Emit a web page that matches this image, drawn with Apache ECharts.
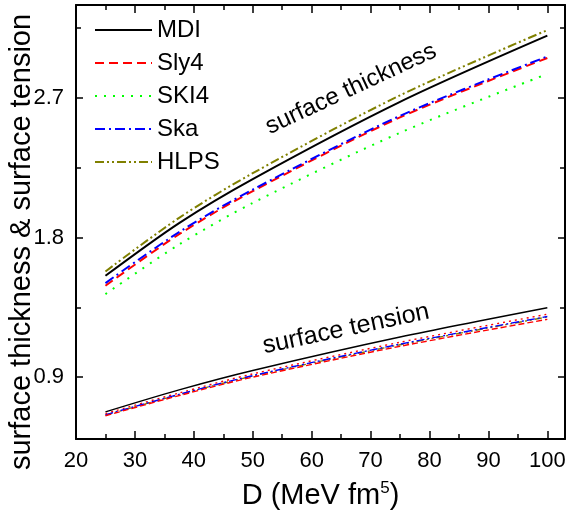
<!DOCTYPE html>
<html><head><meta charset="utf-8">
<script src="https://cdn.jsdelivr.net/npm/echarts@6/dist/echarts.min.js"></script>
<style>html,body{margin:0;padding:0;background:#fff}#c{width:569px;height:510px}</style>
</head><body><div id="c"></div>
<script>
// D values (MeV fm^5)
const D = [25, 37.5, 50, 75, 100];
// surface thickness
const thickMDI  = [1.553, 1.893, 2.177, 2.675, 3.102];
const thickSly4 = [1.489, 1.821, 2.099, 2.575, 2.958];
const thickSKI4 = [1.435, 1.755, 2.023, 2.476, 2.855];
const thickSka  = [1.506, 1.835, 2.109, 2.585, 2.968];
const thickHLPS = [1.581, 1.927, 2.215, 2.717, 3.138];
// surface tension
const tensMDI  = [0.675, 0.817, 0.942, 1.158, 1.347];
const tensSly4 = [0.650, 0.780, 0.899, 1.098, 1.272];
const tensSKI4 = [0.664, 0.797, 0.920, 1.124, 1.305];
const tensSka  = [0.656, 0.788, 0.909, 1.112, 1.290];
const tensHLPS = [0.654, 0.786, 0.906, 1.108, 1.287];
// ticks
const xMajor = [20, 30, 40, 50, 60, 70, 80, 90, 100];
const xMinor = [25, 35, 45, 55, 65, 75, 85, 95];
const yMajor = [0.9, 1.8, 2.7];
const yMinor = [1.35, 2.25, 3.15];
const legendNames = ['MDI', 'Sly4', 'SKI4', 'Ska', 'HLPS'];
const yTitle = 'surface thickness & surface tension';

const FF = 'Liberation Sans, Arial, sans-serif';
const X_MIN = 20, X_MAX = 103, Y_MIN = 0.5, Y_MAX = 3.3;

function mk(name, ys, color, type, width) {
  return {
    type: 'line', name: name,
    data: D.map((x, i) => [x, ys[i]]),
    xAxisIndex: 0, yAxisIndex: 0,
    symbol: 'none', showSymbol: false, smooth: 0.3,
    lineStyle: { color: color, type: type, width: width, cap: 'butt' },
    itemStyle: { color: color },
    emphasis: { disabled: true }, silent: true
  };
}
const series = [
  mk('MDI', thickMDI, '#000000', 'solid', 2),
  mk('Sly4', thickSly4, '#ff0000', [9, 5], 2),
  mk('SKI4', thickSKI4, '#00ff00', [2, 7], 2),
  mk('Ska', thickSka, '#0000ff', [10, 4, 2, 4], 2),
  mk('HLPS', thickHLPS, '#808000', [9, 3, 2, 3, 2, 3], 2),
  mk('MDI', tensMDI, '#000000', 'solid', 1.4),
  mk('SKI4', tensSKI4, '#ff0000', [2, 4], 1.4),
  mk('HLPS', tensHLPS, '#808000', [7, 3, 2, 3, 2, 3], 1.4),
  mk('Ska', tensSka, '#0000ff', [8, 3, 2, 3], 1.4),
  mk('Sly4', tensSly4, '#ff0000', [6, 3], 1.4)
];

function xAx(pos, vals, len, labels, line) {
  return {
    type: 'value', position: pos, min: X_MIN, max: X_MAX, gridIndex: 0,
    axisLine: { show: line, lineStyle: { color: '#000', width: 2 } },
    axisTick: { show: true, inside: true, length: len, customValues: vals, lineStyle: { color: '#000', width: 1.5 } },
    axisLabel: labels ? { show: true, customValues: vals, fontSize: 22, fontFamily: FF, color: '#000', margin: 11 } : { show: false },
    splitLine: { show: false }
  };
}
function yAx(pos, vals, len, labels, line) {
  return {
    type: 'value', position: pos, min: Y_MIN, max: Y_MAX, gridIndex: 0,
    axisLine: { show: line, lineStyle: { color: '#000', width: 2 } },
    axisTick: { show: true, inside: true, length: len, customValues: vals, lineStyle: { color: '#000', width: 1.5 } },
    axisLabel: labels ? { show: true, customValues: vals, fontSize: 22, fontFamily: FF, color: '#000', margin: 12, formatter: v => v.toFixed(1) } : { show: false },
    splitLine: { show: false }
  };
}

const xs = [xAx('bottom', xMajor, 8, true, true), xAx('bottom', xMinor, 5, false, false),
            xAx('top', xMajor, 8, false, true), xAx('top', xMinor, 5, false, false)];
xs[0].name = 'D (MeV fm{sup|5})';
xs[0].nameLocation = 'middle';
xs[0].nameGap = 41;
xs[0].nameTextStyle = { fontSize: 29, fontFamily: FF, color: '#000', lineHeight: 32,
  rich: { sup: { fontSize: 17, fontFamily: FF, color: '#000', verticalAlign: 'top', lineHeight: 32 } } };

const ys = [yAx('left', yMajor, 7, true, true), yAx('left', yMinor, 5, false, false),
            yAx('right', yMajor, 7, false, true), yAx('right', yMinor, 5, false, false)];

const chart = echarts.init(document.getElementById('c'), null, { renderer: 'canvas' });
chart.setOption({
  animation: false,
  backgroundColor: '#fff',
  grid: { left: 76, right: 4, top: 5, bottom: 71, containLabel: false, outerBoundsMode: 'none' },
  xAxis: xs,
  yAxis: ys,
  legend: {
    data: legendNames, orient: 'vertical', left: 89, top: 13,
    itemWidth: 57, itemHeight: 14, itemGap: 9, selectedMode: false,
    itemStyle: { opacity: 0 },
    textStyle: { fontSize: 24, fontFamily: FF, color: '#000', lineHeight: 24 }
  },
  graphic: [
    { type: 'text', x: 22, y: 242, rotation: Math.PI / 2, silent: true,
      style: { text: yTitle, fontSize: 29, fontFamily: FF, fill: '#000', align: 'center', verticalAlign: 'middle' } },
    { type: 'text', x: 351, y: 89, rotation: 25 * Math.PI / 180, silent: true,
      style: { text: 'surface thickness', fontSize: 24, fontFamily: FF, fill: '#000', align: 'center', verticalAlign: 'middle' } },
    { type: 'text', x: 346, y: 329, rotation: 12 * Math.PI / 180, silent: true,
      style: { text: 'surface tension', fontSize: 25, fontFamily: FF, fill: '#000', align: 'center', verticalAlign: 'middle' } }
  ],
  series: series
});
</script>
</body></html>
